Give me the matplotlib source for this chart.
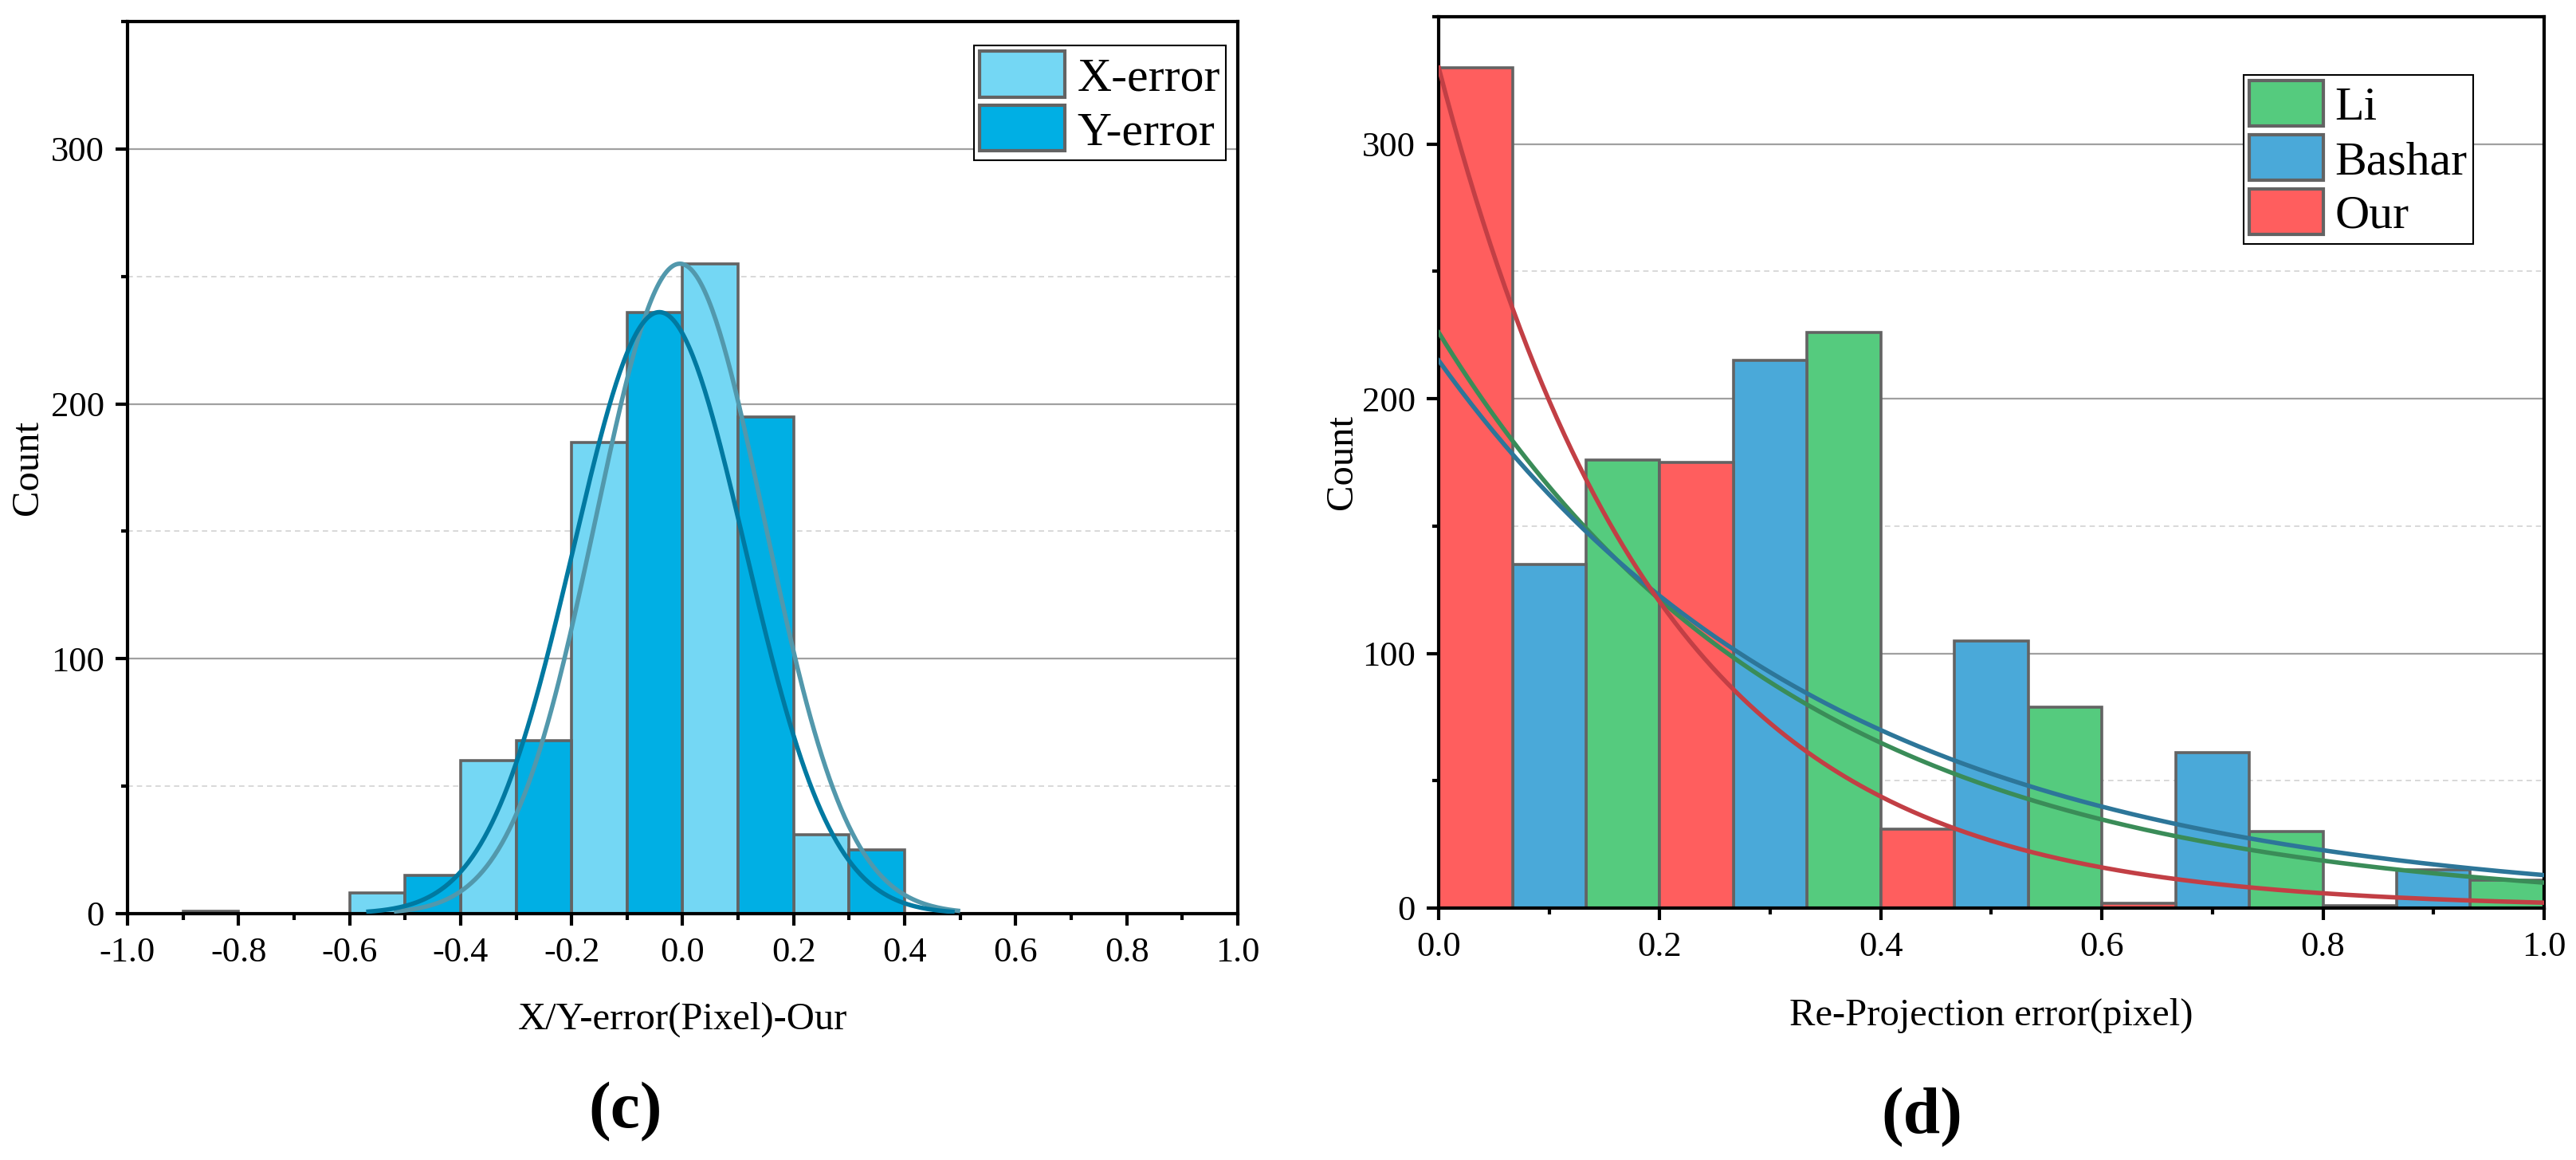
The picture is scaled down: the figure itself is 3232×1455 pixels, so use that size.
import numpy as np
import matplotlib
matplotlib.use("Agg")
import matplotlib.pyplot as plt
from matplotlib.ticker import MultipleLocator, FormatStrFormatter

# Panel (c): X/Y error histograms (bin left edges, bin width 0.1)
xerr_left = [-0.6, -0.4, -0.2, 0.0, 0.2]
xerr_count = [8, 60, 185, 255, 31]
yerr_left = [-0.9, -0.5, -0.3, -0.1, 0.1, 0.3]
yerr_count = [1, 15, 68, 236, 195, 25]
# Gaussian fits: amplitude, centre, sigma, x-range
xfit = [255, -0.005, 0.152, -0.52, 0.50]
yfit = [236, -0.042, 0.155, -0.57, 0.49]

# Panel (d): re-projection error, groups of width 0.2 with three sub-bars
group_left = [0.0, 0.2, 0.4, 0.6, 0.8]
our_count = [330, 175, 31, 2, 1]
bashar_count = [135, 215, 105, 61, 15]
li_count = [176, 226, 79, 30, 11]
# exponential fits: amplitude at 0, decay rate
our_fit = [330, 5.05]
bashar_fit = [215, 2.81]
li_fit = [226, 3.12]

plt.rcParams['font.family'] = ['Liberation Serif', 'DejaVu Serif']
plt.rcParams['axes.unicode_minus'] = False

EDGE = '#636363'
TICK_FS = 32
LAB_FS = 35
LEG = {'family': 'Liberation Serif', 'size': 43}


def style_axes(ax):
    ax.set_ylim(0, 350)
    ax.yaxis.set_major_locator(MultipleLocator(100))
    ax.yaxis.set_minor_locator(MultipleLocator(50))
    ax.xaxis.set_major_formatter(FormatStrFormatter('%.1f'))
    ax.tick_params(which='both', direction='out', top=False, right=False,
                   width=3, labelsize=TICK_FS, pad=10)
    ax.tick_params(which='major', length=11)
    ax.tick_params(which='minor', length=6)
    for s in ax.spines.values():
        s.set_linewidth(3)
    ax.set_axisbelow(True)
    ax.grid(True, which='major', axis='y', color='#A0A0A0', lw=1.6, ls='-')
    ax.grid(True, which='minor', axis='y', color='#D2D2D2', lw=1.2, ls=(0, (4, 3)))


def add_legend(ax, anchor, hl):
    leg = ax.legend(loc='upper right', bbox_to_anchor=anchor, borderaxespad=0,
                    prop=LEG, fancybox=False, framealpha=1, edgecolor='black',
                    handlelength=hl, handleheight=1.1, labelspacing=0.1,
                    borderpad=0.12, handletextpad=0.25)
    leg.get_frame().set_linewidth(1.5)
    for h in leg.legend_handles:
        h.set_linewidth(3)


fig = plt.figure(figsize=(32.32, 14.55), dpi=100)
ax1 = fig.add_axes([0.0495, 0.2124, 0.431, 0.769])
ax2 = fig.add_axes([0.5585, 0.2172, 0.4291, 0.7684])

# ---- (c)
ax1.bar(xerr_left, xerr_count, width=0.1, align='edge', color='#74D7F4',
        edgecolor=EDGE, lw=2.6, label='X-error', zorder=2)
ax1.bar(yerr_left, yerr_count, width=0.1, align='edge', color='#00AFE4',
        edgecolor=EDGE, lw=2.6, label='Y-error', zorder=2)
for p, c in [(xfit, '#5298AC'), (yfit, '#0079A1')]:
    xs = np.linspace(p[3], p[4], 300)
    ax1.plot(xs, p[0]*np.exp(-(xs-p[1])**2/(2*p[2]**2)), color=c, lw=4,
             zorder=3, solid_capstyle='butt')
ax1.set_xlim(-1.0, 1.0)
ax1.xaxis.set_major_locator(MultipleLocator(0.2))
ax1.xaxis.set_minor_locator(MultipleLocator(0.1))
style_axes(ax1)
ax1.set_xlabel('X/Y-error(Pixel)-Our', fontsize=LAB_FS, va='center')
ax1.xaxis.set_label_coords(0.5, -0.119)
ax1.set_ylabel('Count', fontsize=LAB_FS, va='center')
ax1.yaxis.set_label_coords(-0.0897, 0.5)
add_legend(ax1, (0.9892, 0.9732), 1.8)

# ---- (d)
w = 0.2/3
gl = np.array(group_left)
ax2.bar(gl + 2*w, li_count, width=w, align='edge', color='#55CB7E',
        edgecolor=EDGE, lw=2.6, label='Li', zorder=2)
ax2.bar(gl + w, bashar_count, width=w, align='edge', color='#4AA9D9',
        edgecolor=EDGE, lw=2.6, label='Bashar', zorder=2)
ax2.bar(gl, our_count, width=w, align='edge', color='#FF5E5E',
        edgecolor=EDGE, lw=2.6, label='Our', zorder=2)
xs = np.linspace(0, 1, 300)
for p, c in [(li_fit, '#3A8C58'), (bashar_fit, '#2D7699'), (our_fit, '#C23F45')]:
    ax2.plot(xs, p[0]*np.exp(-p[1]*xs), color=c, lw=4, zorder=3)
ax2.set_xlim(0, 1.0)
ax2.xaxis.set_major_locator(MultipleLocator(0.2))
ax2.xaxis.set_minor_locator(MultipleLocator(0.1))
style_axes(ax2)
ax2.set_xlabel('Re-Projection error(pixel)', fontsize=LAB_FS, va='center')
ax2.xaxis.set_label_coords(0.5, -0.121)
ax2.set_ylabel('Count', fontsize=LAB_FS, va='center')
ax2.yaxis.set_label_coords(-0.0872, 0.5)
add_legend(ax2, (0.9358, 0.9347), 1.55)

fig.text(785/3232, 1-1395/1455, '(c)', fontsize=60, fontweight='bold',
         ha='center', va='center')
fig.text(2411/3232, 1-1402/1455, '(d)', fontsize=60, fontweight='bold',
         ha='center', va='center')

fig.savefig('out.png', dpi=100)
